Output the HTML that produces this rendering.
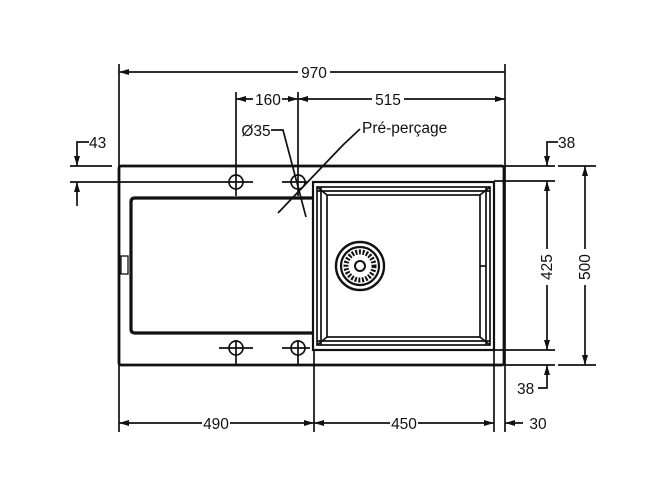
<!DOCTYPE html>
<html><head><style>body{margin:0;background:#fff}svg{display:block}text{font-family:"Liberation Sans",sans-serif;font-size:15.5px;fill:#111}</style></head>
<body>
<svg width="662" height="496" viewBox="0 0 662 496" xmlns="http://www.w3.org/2000/svg">
<defs>
<marker id="a" viewBox="0 0 10 6" refX="10" refY="3" markerWidth="10" markerHeight="6" orient="auto-start-reverse" markerUnits="userSpaceOnUse"><path d="M0,0 L10,3 L0,6z" fill="#111"/></marker>
</defs>
<g stroke="#111" fill="none" stroke-width="1.7">
<rect x="119" y="166" width="385" height="199" rx="2" stroke-width="2.8"/>
<path d="M313,198 L135,198 Q131,198 131,202 L131,329 Q131,333 135,333 L313,333" stroke-width="3.2"/>
<rect x="121" y="256" width="7" height="18" stroke-width="1.3"/>
<rect x="313" y="182" width="181" height="168" stroke-width="2.2"/>
<rect x="317" y="187" width="173" height="158"/>
<rect x="327" y="195" width="153" height="142"/>
<line x1="317" y1="187" x2="327" y2="195"/><line x1="490" y1="187" x2="480" y2="195"/>
<line x1="317" y1="345" x2="327" y2="337"/><line x1="490" y1="345" x2="480" y2="337"/>
<line x1="321" y1="187" x2="321" y2="345"/><line x1="486" y1="187" x2="486" y2="345"/>
<line x1="317" y1="191" x2="490" y2="191"/><line x1="317" y1="341" x2="490" y2="341"/>
<line x1="480" y1="266" x2="486" y2="266"/>
<circle cx="360" cy="266" r="24" stroke-width="2.4"/>
<circle cx="360" cy="266" r="19" stroke-width="2.2"/>
<circle cx="360" cy="266" r="14" stroke-width="5" stroke-dasharray="2 1.6"/>
<circle cx="360" cy="266" r="5" stroke-width="2"/>
<circle cx="236" cy="182" r="7"/><circle cx="298" cy="182" r="7"/>
<circle cx="236" cy="348" r="7"/><circle cx="298" cy="348" r="7"/>
<line x1="70" y1="182" x2="253" y2="182"/><line x1="282" y1="182" x2="307" y2="182"/>
<line x1="219" y1="348" x2="253" y2="348"/><line x1="282" y1="348" x2="310" y2="348"/>
<line x1="236" y1="340" x2="236" y2="365"/><line x1="298" y1="340" x2="298" y2="365"/>
<polyline points="271,130 283,130 306,217"/>
<polyline points="278,213 343,145 360,129"/>
<line x1="119" y1="64" x2="119" y2="432"/>
<line x1="505" y1="64" x2="505" y2="432"/>
<line x1="236" y1="92" x2="236" y2="196"/>
<line x1="298" y1="92" x2="298" y2="196"/>
<line x1="314" y1="350" x2="314" y2="432"/>
<line x1="494" y1="350" x2="494" y2="432"/>
<line x1="70" y1="166" x2="112" y2="166"/>
<line x1="505" y1="166" x2="555" y2="166"/><line x1="558" y1="166" x2="596" y2="166"/>
<line x1="494" y1="181" x2="555" y2="181"/>
<line x1="494" y1="350" x2="555" y2="350"/>
<line x1="505" y1="365" x2="555" y2="365"/><line x1="558" y1="365" x2="596" y2="365"/>
<line x1="119" y1="72" x2="298" y2="72" marker-start="url(#a)"/>
<line x1="330" y1="72" x2="505" y2="72"/>
<line x1="236" y1="99" x2="253" y2="99" marker-start="url(#a)"/>
<line x1="282" y1="99" x2="298" y2="99" marker-end="url(#a)"/>
<line x1="298" y1="99" x2="372" y2="99" marker-start="url(#a)"/>
<line x1="404" y1="99" x2="505" y2="99" marker-end="url(#a)"/>
<polyline points="89,142 77,142 77,166" marker-end="url(#a)"/>
<line x1="77" y1="206" x2="77" y2="182" marker-end="url(#a)"/>
<line x1="119" y1="423" x2="202" y2="423" marker-start="url(#a)"/>
<line x1="230" y1="423" x2="314" y2="423" marker-end="url(#a)"/>
<line x1="314" y1="423" x2="390" y2="423" marker-start="url(#a)"/>
<line x1="418" y1="423" x2="494" y2="423" marker-end="url(#a)"/>
<line x1="505" y1="423" x2="523" y2="423" marker-start="url(#a)"/>
<polyline points="558,142 547,142 547,166" marker-end="url(#a)"/>
<line x1="547" y1="181" x2="547" y2="249" marker-start="url(#a)"/>
<line x1="547" y1="285" x2="547" y2="350" marker-end="url(#a)"/>
<polyline points="538,388 547,388 547,365" marker-end="url(#a)"/>
<line x1="585" y1="166" x2="585" y2="249" marker-start="url(#a)"/>
<line x1="585" y1="285" x2="585" y2="365" marker-end="url(#a)"/>
</g>
<text x="314" y="78" text-anchor="middle">970</text>
<text x="268" y="105" text-anchor="middle">160</text>
<text x="388" y="105" text-anchor="middle">515</text>
<text x="256" y="136" text-anchor="middle">Ø35</text>
<text x="362" y="133">Pré-perçage</text>
<text x="89" y="148">43</text>
<text x="558" y="148">38</text>
<text x="517" y="394">38</text>
<text x="216" y="429" text-anchor="middle">490</text>
<text x="404" y="429" text-anchor="middle">450</text>
<text x="538" y="429" text-anchor="middle">30</text>
<text transform="translate(552,267) rotate(-90)" text-anchor="middle">425</text>
<text transform="translate(590,267) rotate(-90)" text-anchor="middle">500</text>
</svg>
</body></html>
